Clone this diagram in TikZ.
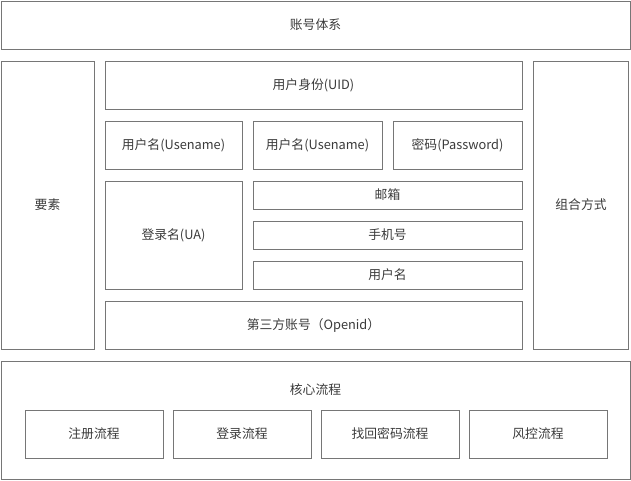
\documentclass[tikz,border=0pt]{standalone}
\usepackage{fontspec}
\usepackage{xcolor}
\setmainfont{Noto Sans CJK SC}
\usetikzlibrary{positioning}
\definecolor{linegray}{HTML}{767676}
\definecolor{textgray}{HTML}{3A3A3A}

\begin{document}
\begin{tikzpicture}[x=1pt, y=-1pt,
    box/.style={draw=linegray, line width=0.9pt, text=textgray, inner sep=0pt,
        font=\fontsize{12.8}{15}\selectfont}]

\useasboundingbox (0,0) rectangle (631,480);

% Top title
\node[box, minimum width=629, minimum height=48] (system) at (315.5,25) {账号体系};

% Side columns
\node[box, minimum width=93, minimum height=288] (elements) at (47.5,205) {要素};
\node[box, minimum width=95, minimum height=288] (combine) at (581,205) {组合方式};

% Middle column
\node[box, minimum width=417, minimum height=48] (uid) at (313.5,85) {用户身份(UID)};

\node[box, minimum width=137, minimum height=48] (uname1) at (173.5,145) {用户名(Usename)};
\node[box, minimum width=129, minimum height=48] (uname2) at (317.5,145) {用户名(Usename)};
\node[box, minimum width=129, minimum height=48] (passwd) at (457.5,145) {密码(Password)};

\node[box, minimum width=137, minimum height=108] (loginname) at (173.5,235) {登录名(UA)};
\node[box, minimum width=269, minimum height=28] (email) at (387.5,195) {邮箱};
\node[box, minimum width=269, minimum height=28] (phone) at (387.5,235) {手机号};
\node[box, minimum width=269, minimum height=28] (uname3) at (387.5,275) {用户名};

\node[box, minimum width=417, minimum height=48] (openid) at (313.5,325) {第三方账号（Openid）};

% Core flows
\node[box, minimum width=629, minimum height=118] (core) at (315.5,420) {};
\node[text=textgray, font=\fontsize{12.8}{15}\selectfont] (coretitle) at (315.5,390) {核心流程};

\node[box, minimum width=138, minimum height=48] (register) at (94,434) {注册流程};
\node[box, minimum width=138, minimum height=48] (login) at (242,434) {登录流程};
\node[box, minimum width=138, minimum height=48] (findpwd) at (390,434) {找回密码流程};
\node[box, minimum width=138, minimum height=48] (risk) at (538,434) {风控流程};

\end{tikzpicture}
\end{document}
